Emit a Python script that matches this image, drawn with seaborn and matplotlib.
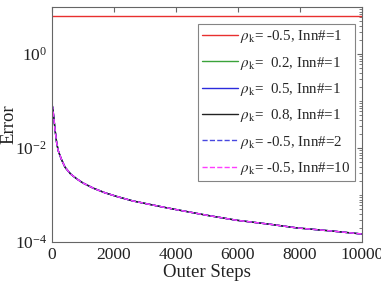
import numpy as np
import pandas as pd
import matplotlib
matplotlib.use("Agg")
import matplotlib.pyplot as plt
import matplotlib.ticker as mticker
import seaborn as sns

# ---- data ----
steps = [0, 25, 50, 100, 150, 200, 300, 420, 600, 800, 1000, 1330, 1700, 2090,
         2600, 3160, 3600, 4075, 5000, 5960, 7000, 7890, 9000, 10000]
err_decay = [0.085, 0.07, 0.05, 0.024, 0.013, 0.0088, 0.0058, 0.0039, 0.0028,
             0.0022, 0.0018, 0.0014, 0.00112, 0.00093, 0.00075, 0.00063,
             0.00055, 0.00048, 0.00037, 0.00029, 0.00024, 0.0002, 0.000172,
             0.000148]
err_red = [6.5] * len(steps)

series_labels = [r'$\rho_{\rm k}$= -0.5, Inn#=1',
                 r'$\rho_{\rm k}$=  0.2, Inn#=1',
                 r'$\rho_{\rm k}$=  0.5, Inn#=1',
                 r'$\rho_{\rm k}$=  0.8, Inn#=1',
                 r'$\rho_{\rm k}$= -0.5, Inn#=2',
                 r'$\rho_{\rm k}$= -0.5, Inn#=10']
series_values = [err_red, err_decay, err_decay, err_decay, err_decay, err_decay]
series_colors = ['#e8302f', '#3aa33a', '#2b2bdc', '#222222', '#4848e0', '#ff3cff']
series_styles = ['-', '-', '-', '-', '--', '--']

xticks = [0, 2000, 4000, 6000, 8000, 10000]
yticks = [1e-4, 1e-2, 1e0]

sns.set_style("white")
plt.rcParams['font.family'] = ['Liberation Serif', 'DejaVu Serif']
plt.rcParams['mathtext.fontset'] = 'stix'

fig = plt.figure(figsize=(3.81, 2.89), dpi=100)
ax = fig.add_axes([0.1365, 0.1626, 0.8135, 0.8132])

for lab, vals, col, ls in zip(series_labels, series_values, series_colors, series_styles):
    df = pd.DataFrame({'Outer Steps': steps, 'Error': vals})
    sns.lineplot(data=df, x='Outer Steps', y='Error', ax=ax, color=col,
                 linestyle=ls, linewidth=1.0, label=lab)

ax.set_yscale('log')
ax.set_xlim(0, 10000)
ax.set_ylim(1e-4, 1e1)
ax.set_xticks(xticks)
ax.set_xticklabels([str(t) for t in xticks])
ax.yaxis.set_major_locator(mticker.FixedLocator(yticks))
ax.yaxis.set_major_formatter(mticker.LogFormatterMathtext())
ax.yaxis.set_minor_locator(mticker.LogLocator(base=10, subs=np.arange(1, 10), numticks=20))
ax.yaxis.set_minor_formatter(mticker.NullFormatter())

gray = '#666666'
for s in ax.spines.values():
    s.set_color(gray)
    s.set_linewidth(0.8)
ax.tick_params(axis='both', which='both', direction='in', top=True, right=True,
               color=gray, labelsize=12.5, labelcolor='#222222')
ax.tick_params(which='major', length=3.5)
ax.tick_params(which='minor', length=2)

ax.set_xlabel('Outer Steps', fontsize=13.5, color='#222222', labelpad=1)
ax.set_ylabel('Error', fontsize=13.5, color='#222222', labelpad=-2)

leg = ax.legend(loc='upper right', bbox_to_anchor=(0.977, 0.928), fontsize=10.8,
                frameon=True, fancybox=False, handlelength=2.4, handletextpad=0.15,
                borderpad=0.3, labelspacing=0.62, borderaxespad=0)
leg.get_frame().set_edgecolor(gray)
leg.get_frame().set_linewidth(0.8)

fig.savefig('out.png', dpi=100)
